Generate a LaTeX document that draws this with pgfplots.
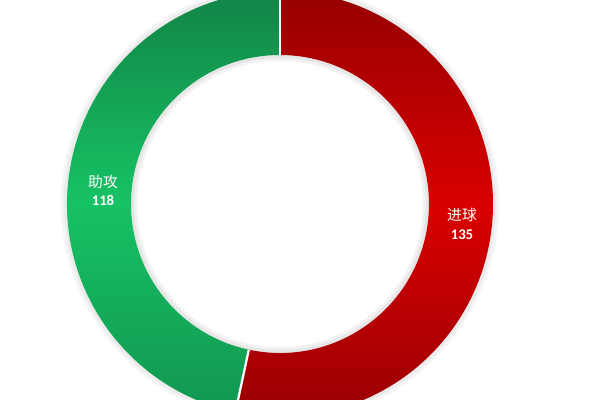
\documentclass[border=0pt]{standalone}
\usepackage{pgfplots}
\pgfplotsset{compat=1.18}
\usepackage{pgfplotstable}
\usepackage{fontspec}
\setmainfont{Carlito}
\newfontfamily\cjk{Noto Sans CJK SC}

% goals, assists
\pgfplotstableread{
value
135
118
}\stats

\definecolor{redtop}{RGB}{150,0,0}
\definecolor{redmid}{RGB}{218,0,0}
\definecolor{redbot}{RGB}{150,0,4}
\definecolor{grtop}{RGB}{18,132,70}
\definecolor{grmid}{RGB}{22,194,100}
\definecolor{grbot}{RGB}{18,150,80}

\begin{document}
\begin{tikzpicture}
\pgfplotstablegetelem{0}{value}\of\stats \let\vA\pgfplotsretval
\pgfplotstablegetelem{1}{value}\of\stats \let\vB\pgfplotsretval
\pgfmathsetmacro\tot{\vA+\vB}
\pgfmathsetmacro\aS{90}
\pgfmathsetmacro\aM{90-360*(\vA/\tot)}
\pgfmathsetmacro\aE{-270}
% centre and radii in pixel units (axis units)
\def\cx{280}\def\cy{196}\def\Ro{213}\def\Ri{149}
\pgfmathsetmacro\xOS{\cx+\Ro*cos(\aS)}\pgfmathsetmacro\yOS{\cy+\Ro*sin(\aS)}
\pgfmathsetmacro\xIS{\cx+\Ri*cos(\aS)}\pgfmathsetmacro\yIS{\cy+\Ri*sin(\aS)}
\pgfmathsetmacro\xIM{\cx+\Ri*cos(\aM)}\pgfmathsetmacro\yIM{\cy+\Ri*sin(\aM)}
\pgfmathsetmacro\xOM{\cx+\Ro*cos(\aM)}\pgfmathsetmacro\yOM{\cy+\Ro*sin(\aM)}
\pgfmathsetmacro\xIE{\cx+\Ri*cos(\aE)}\pgfmathsetmacro\yIE{\cy+\Ri*sin(\aE)}
\begin{axis}[
    width=15cm, height=10cm, scale only axis,
    xmin=0, xmax=600, ymin=0, ymax=400,
    hide axis, clip=true,
]
    % soft shadow round the ring
    \draw[black, opacity=0.05, line width=6pt] (axis cs:\cx,\cy) circle[radius=3.68cm];
    \draw[black, opacity=0.05, line width=3pt] (axis cs:\cx,\cy) circle[radius=3.70cm];
    \draw[black, opacity=0.04, line width=6pt] (axis cs:\cx,\cy) circle[radius=5.37cm];
    \draw[black, opacity=0.04, line width=3pt] (axis cs:\cx,\cy) circle[radius=5.35cm];
    % goals
    \path[top color=redtop, bottom color=redbot, middle color=redmid]
        (axis cs:\xOS,\yOS) arc[start angle=\aS, end angle=\aM, radius=5.325cm]
        -- (axis cs:\xIM,\yIM) arc[start angle=\aM, end angle=\aS, radius=3.725cm] -- cycle;
    % assists
    \path[top color=grtop, bottom color=grbot, middle color=grmid]
        (axis cs:\xOM,\yOM) arc[start angle=\aM, end angle=\aE, radius=5.325cm]
        -- (axis cs:\xIE,\yIE) arc[start angle=\aE, end angle=\aM, radius=3.725cm] -- cycle;
    % separators
    \draw[white, line width=1.6pt] (axis cs:\xIS,\yIS) -- (axis cs:\xOS,\yOS);
    \draw[white, line width=1.6pt] (axis cs:\xIM,\yIM) -- (axis cs:\xOM,\yOM);
    \node[white, align=center, font=\fontsize{10.5}{13}\selectfont] at (axis cs:103,210)
        {\cjk 助攻\\ \bfseries 118};
    \node[white, align=center, font=\fontsize{10.5}{13}\selectfont] at (axis cs:462,176)
        {\cjk 进球\\ \bfseries 135};
\end{axis}
\pgfresetboundingbox
\path (current axis.south west) rectangle (current axis.north east);
\end{tikzpicture}
\end{document}
